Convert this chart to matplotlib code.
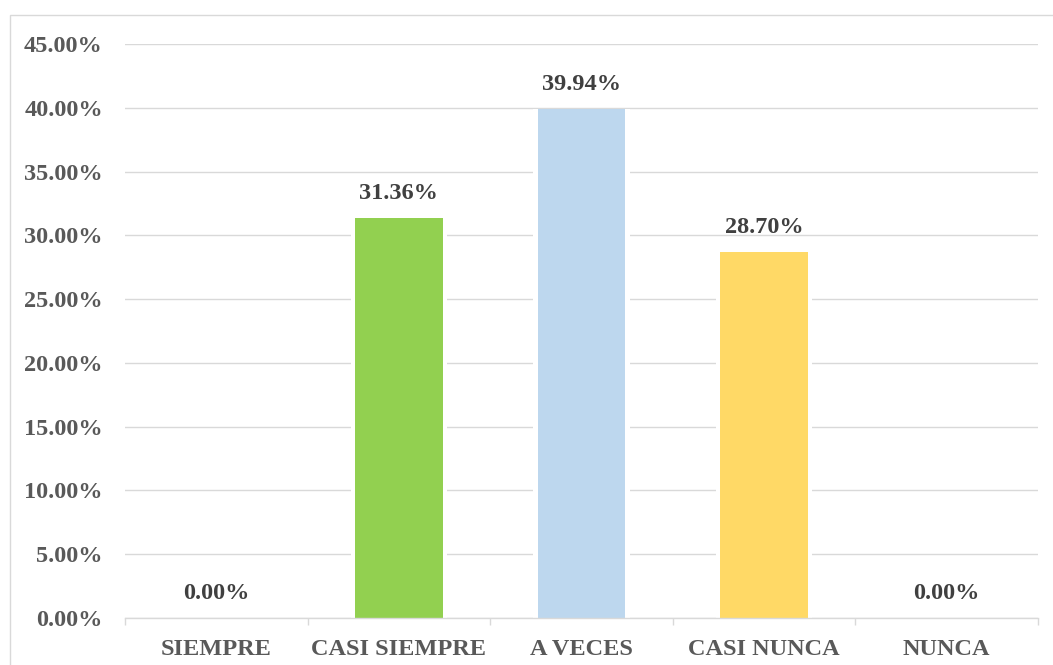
import matplotlib
matplotlib.use("Agg")
import matplotlib.pyplot as plt
from matplotlib.patches import Rectangle
from matplotlib.ticker import FuncFormatter, FixedLocator

categories = ["SIEMPRE", "CASI SIEMPRE", "A VECES", "CASI NUNCA", "NUNCA"]
values = [0.00, 31.36, 39.94, 28.70, 0.00]
colors = ["#92D050", "#92D050", "#BDD7EE", "#FFD966", "#FFD966"]
y_ticks = [0, 5, 10, 15, 20, 25, 30, 35, 40, 45]

plt.rcParams["font.family"] = ["Liberation Serif", "DejaVu Serif"]
plt.rcParams["font.weight"] = "bold"

fig = plt.figure(figsize=(10.53, 6.65), dpi=100)
ax = fig.add_axes([125 / 1053, 1 - 618 / 665, (1038 - 125) / 1053, (618 - 44) / 665])

grid_c = "#D9D9D9"
x = list(range(len(categories)))
# white halo behind each bar so gridlines stop short of the bar sides
ax.bar(x, values, width=0.53, color="white", linewidth=0, zorder=1.5)
ax.bar(x, values, width=0.48, color=colors, linewidth=0, zorder=2)

for xi, v in zip(x, values):
    ax.annotate(f"{v:.2f}%", (xi, v), xytext=(0, 10), textcoords="offset points",
                ha="center", va="bottom", fontsize=17.5, fontweight="bold",
                color="#404040", zorder=4)

ax.set_xlim(-0.5, len(categories) - 0.5)
ax.set_ylim(0, 45)
ax.set_yticks(y_ticks)
ax.yaxis.set_major_formatter(FuncFormatter(lambda v, p: f"{v:.2f}%"))
ax.yaxis.grid(True, color=grid_c, linewidth=1.0, zorder=0)
ax.set_axisbelow(True)

ax.set_xticks(x)
ax.set_xticklabels(categories)
ax.xaxis.set_minor_locator(FixedLocator([i - 0.5 for i in range(len(categories) + 1)]))
ax.tick_params(axis="x", which="major", length=0, pad=15, labelsize=17.5,
               labelcolor="#595959")
ax.tick_params(axis="x", which="minor", length=5, width=1.0, color=grid_c)
ax.tick_params(axis="y", length=0, pad=16, labelsize=17.5, labelcolor="#595959")
for lab in ax.get_xticklabels() + ax.get_yticklabels():
    lab.set_fontweight("bold")

for s in ["top", "right", "left"]:
    ax.spines[s].set_visible(False)
ax.spines["bottom"].set_color(grid_c)
ax.spines["bottom"].set_linewidth(1.0)
ax.spines["bottom"].set_zorder(3)

# light frame around the chart area
fig.patches.append(Rectangle((9.5 / 1053, -0.1), 1.2, 0.1 + (665 - 14.5) / 665,
                             transform=fig.transFigure, fill=False,
                             edgecolor=grid_c, linewidth=1.0))

fig.savefig("out.png", dpi=100)
